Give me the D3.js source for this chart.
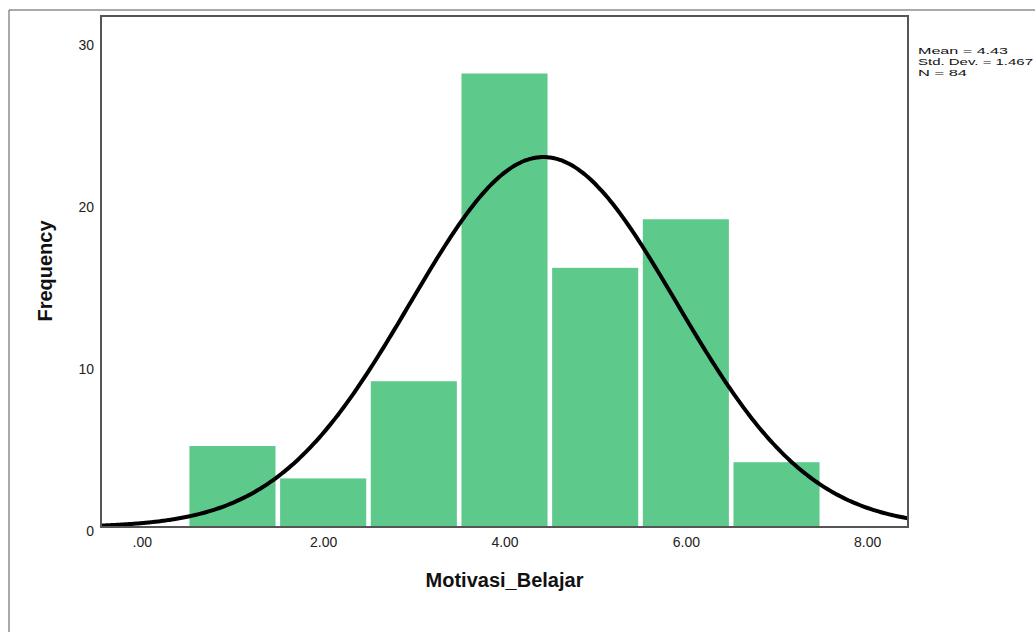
<!DOCTYPE html>
<html>
<head>
<meta charset="utf-8">
<script src="https://cdn.jsdelivr.net/npm/d3@7"></script>
<style>
  html, body { margin: 0; padding: 0; background: #fff; }
  svg { display: block; }
  text { font-family: "Liberation Sans", Arial, sans-serif; }
</style>
</head>
<body>
<svg id="chart" width="1035" height="632"></svg>
<script>
// ---- data ----
const binCenters = [1, 2, 3, 4, 5, 6, 7];
const frequencies = [5, 3, 9, 28, 16, 19, 4];
const binWidth = 1;
const xTicks = [0, 2, 4, 6, 8];
const xTickLabels = [".00", "2.00", "4.00", "6.00", "8.00"];
const yTicks = [0, 10, 20, 30];
const statLabels = ["Mean = 4.43", "Std. Dev. = 1.467", "N = 84"];
const fitMean = 4.43;
const fitStdDev = 1.467;
const fitN = 84;
const xLabel = "Motivasi_Belajar";
const yLabel = "Frequency";

// ---- layout ----
const W = 1035, H = 632;
const plot = { left: 101, top: 16, right: 908, bottom: 527 };
const svg = d3.select("#chart");

svg.append("rect").attr("width", W).attr("height", H).attr("fill", "#fff");

// outer frame (partial, as in reference)
svg.append("path")
  .attr("d", `M9,${H} V10 H${W}`)
  .attr("fill", "none").attr("stroke", "#555").attr("stroke-width", 1);

const x = d3.scaleLinear().domain([-0.45, 8.45]).range([plot.left, plot.right]);
const y = d3.scaleLinear().domain([0, 31.55]).range([plot.bottom, plot.top]);

// clip
svg.append("clipPath").attr("id", "clip")
  .append("rect")
  .attr("x", plot.left).attr("y", plot.top)
  .attr("width", plot.right - plot.left).attr("height", plot.bottom - plot.top);

// bars
const inset = 2.3;
svg.append("g").selectAll("rect")
  .data(binCenters.map((c, i) => ({ c, f: frequencies[i] })))
  .join("rect")
  .attr("x", d => x(d.c - binWidth / 2) + inset)
  .attr("width", d => x(d.c + binWidth / 2) - x(d.c - binWidth / 2) - 2 * inset)
  .attr("y", d => y(d.f))
  .attr("height", d => y(0) - y(d.f))
  .attr("fill", "#5dca8b");

// normal curve fitted from displayed statistics
const [d0, d1] = x.domain();
const curvePts = d3.range(0, 301).map(i => {
  const v = d0 + (d1 - d0) * i / 300;
  const z = (v - fitMean) / fitStdDev;
  return [v, fitN * binWidth / (fitStdDev * Math.sqrt(2 * Math.PI)) * Math.exp(-0.5 * z * z)];
});
svg.append("path")
  .datum(curvePts)
  .attr("clip-path", "url(#clip)")
  .attr("fill", "none")
  .attr("stroke", "#000")
  .attr("stroke-width", 4)
  .attr("d", d3.line().x(d => x(d[0])).y(d => y(d[1])).curve(d3.curveBasis));

// plot frame
svg.append("rect")
  .attr("x", plot.left).attr("y", plot.top)
  .attr("width", plot.right - plot.left).attr("height", plot.bottom - plot.top)
  .attr("fill", "none").attr("stroke", "#555").attr("stroke-width", 2);

// y axis
const yAxis = d3.axisLeft(y).tickValues(yTicks).tickSize(0).tickPadding(7);
const gy = svg.append("g").attr("transform", `translate(${plot.left},0)`).call(yAxis);
gy.select(".domain").remove();
gy.selectAll("text")
  .attr("font-size", 14).attr("fill", "#222")
  .attr("font-family", "'Liberation Sans', Arial, sans-serif")
  .attr("dy", "0.6em");

// x axis
const xAxis = d3.axisBottom(x).tickValues(xTicks).tickSize(0).tickPadding(10)
  .tickFormat((d, i) => xTickLabels[i]);
const gx = svg.append("g").attr("transform", `translate(0,${plot.bottom})`).call(xAxis);
gx.select(".domain").remove();
gx.selectAll("text")
  .attr("font-size", 14).attr("fill", "#222")
  .attr("font-family", "'Liberation Sans', Arial, sans-serif");

// axis titles
svg.append("text")
  .attr("x", (plot.left + plot.right) / 2).attr("y", 587)
  .attr("text-anchor", "middle")
  .attr("font-size", 20).attr("font-weight", "bold").attr("fill", "#111")
  .text(xLabel);

svg.append("text")
  .attr("transform", `translate(52,${271}) rotate(-90)`)
  .attr("text-anchor", "middle")
  .attr("font-size", 20).attr("font-weight", "bold").attr("fill", "#111")
  .text(yLabel);

// stats legend
const statWidths = [90, 115, 49];
svg.append("g").selectAll("text")
  .data(statLabels)
  .join("text")
  .attr("x", 918)
  .attr("y", (d, i) => 54.3 + i * 10.7)
  .attr("font-size", 9.5)
  .attr("fill", "#111")
  .attr("textLength", (d, i) => statWidths[i])
  .attr("lengthAdjust", "spacingAndGlyphs")
  .text(d => d);
</script>
</body>
</html>
